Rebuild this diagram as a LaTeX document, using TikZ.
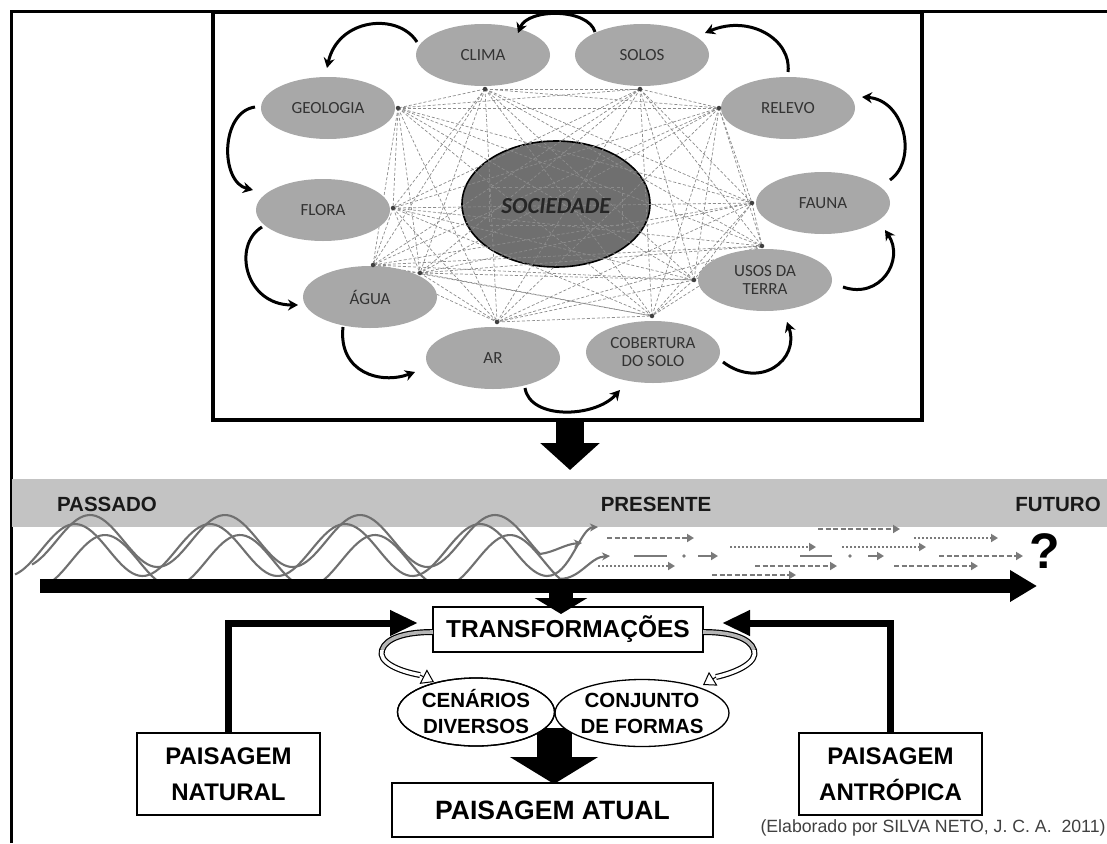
\documentclass[tikz,border=0pt]{standalone}
\usepackage{fontspec}
\setmainfont{Liberation Sans}
\newfontfamily\calfont{Carlito}
\usetikzlibrary{arrows.meta,shapes.geometric}
\definecolor{ellgray}{HTML}{A8A8A8}
\definecolor{socgray}{HTML}{6F6F6F}
\definecolor{bandgray}{HTML}{C3C3C3}
\definecolor{wavegray}{HTML}{707070}
\definecolor{webgray}{HTML}{8C8C8C}
\definecolor{txtgray}{HTML}{333333}
\definecolor{futgray}{HTML}{7A7A7A}
\definecolor{ribgray}{HTML}{B5B5B5}
\begin{document}
\begin{tikzpicture}[x=1pt,y=-1pt,
  soil/.style={ellipse, fill=ellgray, minimum width=134pt, minimum height=62pt, inner sep=0pt, align=center, text=txtgray, font=\calfont\fontsize{17}{18}\selectfont},
  cyc/.style={line width=3pt, -{Stealth[length=10pt,width=11pt]}},
  web/.style={draw=webgray, line width=0.7pt, dash pattern=on 3pt off 2pt},
  hub/.style={circle, fill=black!75, inner sep=0pt, minimum size=4.5pt},
  lbl/.style={font=\bfseries\fontsize{20.5}{24}\selectfont, text=black!90},
  bbox/.style={draw, line width=1.8pt, fill=white, align=center, inner sep=0pt, font=\bfseries\fontsize{24}{36}\selectfont},
  oval/.style={ellipse, draw, line width=1.3pt, fill=white, inner sep=0pt, align=center, font=\bfseries\fontsize{20.5}{26}\selectfont},
  wave/.style={draw=wavegray, line width=2.1pt, -{Stealth[length=8pt,width=8pt]}},
  fut/.style={draw=futgray, line width=2pt, -{Triangle[length=7pt,width=8pt]}},
  dashpat/.style={dash pattern=on 5pt off 2.5pt},
  dotpat/.style={dash pattern=on 1.5pt off 2.5pt},
  conn/.style={line width=7pt, -{Triangle[length=28pt,width=24pt]}},
  ribout/.style={line width=6pt},
  ribin/.style={line width=3.6pt}
]
\useasboundingbox (0,0) rectangle (1107,843);
\fill[white] (0,0) rectangle (1107,843);

% outer frame
\draw[line width=3pt] (11,843) -- (11,12) -- (1107,12);

% top panel
\node[draw, line width=3.5pt, minimum width=709pt, minimum height=408pt, inner sep=0pt] (panel) at (567.5,216) {};

% SOCIEDADE
\node[ellipse, draw, line width=1.6pt, fill=socgray, minimum width=188pt, minimum height=126pt] (soc) at (556,204) {};

% hubs
\coordinate (h1) at (485,89);
\coordinate (h2) at (640,89);
\coordinate (h3) at (398,108);
\coordinate (h4) at (719,108);
\coordinate (h5) at (393,208);
\coordinate (h6) at (752,203);
\coordinate (h7) at (373,265);
\coordinate (h8) at (420,273);
\coordinate (h9) at (762,246);
\coordinate (h10) at (694,280);
\coordinate (h11) at (497,322);
\coordinate (h12) at (652,316);

\foreach \i in {1,...,11}{
  \pgfmathtruncatemacro{\k}{\i+1}
  \foreach \j in {\k,...,12}{ \draw[web] (h\i) -- (h\j); }
}

% ellipses
\node[soil] (clima) at (483,55) {CLIMA};
\node[soil] (solos) at (642,55) {SOLOS};
\node[soil] (geol) at (328,108) {GEOLOGIA};
\node[soil] (relevo) at (788,108) {RELEVO};
\node[soil] (flora) at (323,210) {FLORA};
\node[soil] (fauna) at (823,203) {FAUNA};
\node[soil] (agua) at (370,297) {ÁGUA};
\node[soil] (usos) at (765,280) {USOS DA\\TERRA};
\node[soil] (ar) at (493,358) {AR};
\node[soil] (cob) at (653,352) {COBERTURA\\DO SOLO};

\foreach \i in {1,...,12} \node[hub] (hd\i) at (h\i) {};

\node[draw=webgray, dashed, line width=0.7pt, minimum width=133pt, minimum height=38pt, inner sep=0pt, text=black!85, font=\calfont\bfseries\itshape\fontsize{23}{24}\selectfont] (soclab) at (556,206) {SOCIEDADE};

% cycle arrows
\coordinate (c1s) at (788,72);  \coordinate (c1e) at (705,33);
\coordinate (c2s) at (595,32);  \coordinate (c2e) at (518,33);
\coordinate (c3s) at (417,42);  \coordinate (c3e) at (327,68);
\coordinate (c4s) at (255,107); \coordinate (c4e) at (253,190);
\coordinate (c5s) at (262,227); \coordinate (c5e) at (298,305);
\coordinate (c6s) at (343,327); \coordinate (c6e) at (415,372);
\coordinate (c7s) at (525,388); \coordinate (c7e) at (620,390);
\coordinate (c8s) at (723,362); \coordinate (c8e) at (787,322);
\coordinate (c9s) at (843,287); \coordinate (c9e) at (885,230);
\coordinate (c10s) at (890,180); \coordinate (c10e) at (862,97);
\draw[cyc] (c1s) .. controls (792,40) and (750,14) .. (c1e);
\draw[cyc] (c2s) .. controls (588,8) and (528,8) .. (c2e);
\draw[cyc] (c3s) .. controls (398,12) and (338,18) .. (c3e);
\draw[cyc] (c4s) .. controls (220,112) and (220,182) .. (c4e);
\draw[cyc] (c5s) .. controls (232,245) and (245,305) .. (c5e);
\draw[cyc] (c6s) .. controls (338,372) and (380,385) .. (c6e);
\draw[cyc] (c7s) .. controls (530,420) and (595,418) .. (c7e);
\draw[cyc] (c8s) .. controls (760,390) and (800,360) .. (c8e);
\draw[cyc] (c9s) .. controls (880,300) and (905,260) .. (c9e);
\draw[cyc] (c10s) .. controls (918,160) and (905,100) .. (c10e);

% arrow panel -> band
\coordinate (a1s) at (570,421);
\coordinate (a1e) at (570,470);
\draw[line width=28pt, -{Triangle[length=27pt,width=58pt]}] (a1s) -- (a1e);

% band
\fill[bandgray] (12,479) rectangle (1107,527);
\node[lbl] (pas) at (107,504) {PASSADO};
\node[lbl] (pre) at (656,504) {PRESENTE};
\node[lbl] (fut) at (1058,504) {FUTURO};

% waves
\draw[wave] plot[domain=15:547, samples=160, smooth] (\x,{550-26*cos(2.6667*(\x-75))}) .. controls (570,576) and (580,528) .. (598,527);
\draw[wave] plot[domain=32:540, samples=160, smooth] (\x,{541-26*cos(2.6667*(\x-90))}) .. controls (555,552) and (565,544) .. (582,543);
\draw[wave] plot[domain=45:560, samples=160, smooth] (\x,{561-26*cos(2.6667*(\x-105))}) .. controls (580,579) and (590,557) .. (610,556);

% future arrows
\draw[fut, dashpat] (607,538) -- (694,538);
\draw[futgray, line width=2.5pt] (634,556) -- (667,556);
\fill[futgray] (684,556) circle (1.8);
\draw[fut] (698,556) -- (718,556);
\draw[fut, dotpat] (598,566) -- (675,566);
\draw[fut, dotpat] (730,547) -- (816,547);
\draw[fut, dashpat] (818,529) -- (900,529);
\draw[futgray, line width=2.5pt] (800,556) -- (832,556);
\fill[futgray] (850,556) circle (1.8);
\draw[fut] (868,556) -- (884,556);
\draw[fut, dashpat] (755,566) -- (837,566);
\draw[fut, dashpat] (712,575) -- (796,575);
\draw[fut, dotpat] (842,547) -- (926,547);
\draw[fut, dotpat] (914,538) -- (998,538);
\draw[fut, dashpat] (939,556) -- (1023,556);
\draw[fut, dashpat] (894,566) -- (978,566);
\node[font=\bfseries\fontsize{50}{50}\selectfont] (q) at (1045,551) {?};

% timeline
\coordinate (ts) at (40,586);
\coordinate (te) at (1037,586);
\draw[line width=14pt, -{Triangle[length=27pt,width=30pt]}] (ts) -- (te);

% transformacoes
\node[bbox, minimum width=270pt, minimum height=45pt, font=\bfseries\fontsize{24.5}{28}\selectfont] (trans) at (568,629.5) {TRANSFORMAÇÕES};
\coordinate (a2s) at (561,586);
\coordinate (a2e) at (561,614);
\draw[line width=24pt, -{Triangle[length=16pt,width=52pt]}] (a2s) -- (a2e);

% side boxes
\node[bbox, minimum width=183pt, minimum height=82pt] (nat) at (228.5,774) {PAISAGEM\\NATURAL};
\node[bbox, minimum width=183pt, minimum height=82pt] (ant) at (890.5,774) {PAISAGEM\\ANTRÓPICA};
\coordinate (tipL) at (418,623);
\coordinate (tipR) at (722,623);
\draw[conn] (nat.north) |- (tipL);
\draw[conn] (ant.north) |- (tipR);

% ribbons
\draw[ribout] (433,632) .. controls (405,632) and (386,638) .. (382,650) .. controls (378,662) and (398,671) .. (420,675);
\draw[ribin, ribgray] (433,632) .. controls (405,632) and (386,638) .. (382,650);
\draw[ribin, white] (382,650) .. controls (378,662) and (398,671) .. (420,675);
\coordinate (rlt) at (434,682);
\draw[line width=1pt, -{Triangle[length=12pt,width=16pt,fill=white]}] (420,675) -- (rlt);
\draw[ribout] (703,632) .. controls (731,632) and (750,638) .. (754,650) .. controls (758,662) and (738,672) .. (716,677);
\draw[ribin, ribgray] (703,632) .. controls (731,632) and (750,638) .. (754,650);
\draw[ribin, white] (754,650) .. controls (758,662) and (738,672) .. (716,677);
\coordinate (rrt) at (703,685);
\draw[line width=1pt, -{Triangle[length=12pt,width=16pt,fill=white]}] (716,677) -- (rrt);

% arrow to atual
\coordinate (a3s) at (554,728);
\coordinate (a3e) at (554,784);
\draw[line width=35pt, -{Triangle[length=27pt,width=87pt]}] (a3s) -- (a3e);

% small ellipses
\node[oval, minimum width=157pt, minimum height=68pt] (cen) at (476,712) {CENÁRIOS\\DIVERSOS};
\node[oval, minimum width=171pt, minimum height=67pt] (conj) at (642,713) {CONJUNTO\\DE FORMAS};
\draw[line width=1.3pt] (cen.center) ellipse [x radius=78.5, y radius=34];

% atual
\node[bbox, minimum width=321pt, minimum height=54pt, font=\bfseries\fontsize{26.5}{30}\selectfont] (atual) at (552.5,810) {PAISAGEM ATUAL};

\node[anchor=west, text=black!75, font=\fontsize{17.7}{19}\selectfont] (credit) at (757,828) {(Elaborado por SILVA NETO, J. C. A.\ \ 2011)};
\end{tikzpicture}
\end{document}
